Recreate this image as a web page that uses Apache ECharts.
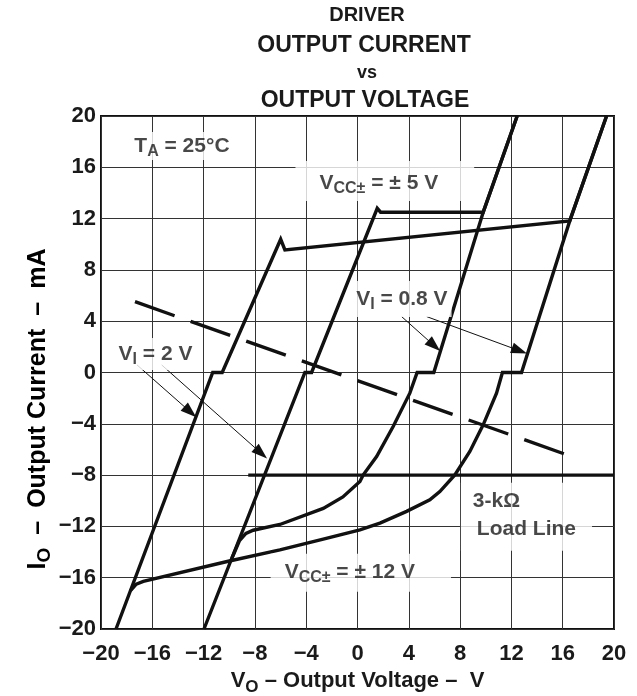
<!DOCTYPE html>
<html><head><meta charset="utf-8">
<script src="https://cdn.jsdelivr.net/npm/echarts@6/dist/echarts.min.js"></script>
<style>html,body{margin:0;padding:0;background:#fff}#c{width:637px;height:696px}</style>
</head><body><div id="c"></div>
<script>
// ---- axis ticks ----
const xTicks = [-20, -16, -12, -8, -4, 0, 4, 8, 12, 16, 20];
const yTicks = [-20, -16, -12, -8, -4, 0, 4, 8, 12, 16, 20];

// ---- VCC± = ±12 V, VI = 2 V (rising branch) ----
const v12RiseX = [-18.83, -11.29, -10.55, -5.99, -5.66, 16.55, 19.42];
const v12RiseY = [-20, 0, 0, 10.39, 9.56, 11.82, 20];

// ---- VCC± = ±12 V, VI = 0.8 V (falling branch) ----
const v12FallX = [19.42, 16.55, 12.79, 11.3, 10.84, 9.8, 8.76, 7.59, 6.42, 5.64, 3.83, 1.75, 0.19, -2.67, -6.05, -10.08, -16.7, -17.25, -17.7];
const v12FallY = [20, 11.82, 0, 0, -1.61, -4.08, -6.16, -7.98, -9.28, -9.93, -10.83, -11.74, -12.27, -13.0, -13.83, -14.72, -16.29, -16.5, -17.0];

// ---- VCC± = ±5 V, VI = 2 V ----
const v5RiseX = [-11.97, -4.1, -3.58, 1.54, 1.8, 9.8, 12.45];
const v5RiseY = [-20, 0, 0, 12.8, 12.5, 12.5, 20];

// ---- VCC± = ±5 V, VI = 0.8 V ----
const v5FallX = [12.45, 9.8, 5.95, 4.65, 4.08, 2.78, 1.49, 0.45, 0.19, -1.14, -2.67, -6.05, -8.13, -8.7, -9.2, -9.5, -9.8];
const v5FallY = [20, 12.5, 0, 0, -1.61, -4.21, -6.55, -7.98, -8.5, -9.7, -10.6, -11.85, -12.3, -12.55, -13.1, -13.8, -14.5];

// ---- 3-kΩ load line (dashed) and -8 mA line ----
const loadLineX = [-17.35, 16.5];
const loadLineY = [5.52, -6.48];
const flatLineX = [-8.52, 20];
const flatLineY = [-8, -8];

// ---- annotation arrows [x0, y0, x1, y1] ----
const arrows = [
  [-17.19, 0.59, -13.04, -3.07],
  [-15.27, 0.59, -7.52, -6.29],
  [3.44, 4.36, 5.98, 2.09],
  [5.39, 4.36, 12.63, 1.7]
];

const FONT = '"Liberation Sans", Arial, Helvetica, sans-serif';
const pair = (xs, ys) => xs.map((x, i) => [x, ys[i]]);
const fmt = v => v < 0 ? '\u2212' + Math.abs(v) : String(v);

function curve(name, xs, ys, extra) {
  return Object.assign({
    name, type: 'line', data: pair(xs, ys), showSymbol: false, silent: true,
    lineStyle: { color: '#111', width: 3.4, join: 'miter' }, z: 3, animation: false
  }, extra || {});
}

const rich = {
  m: { fontFamily: FONT, fontWeight: 'bold', fontSize: 21, color: '#1a1a1a', verticalAlign: 'middle', lineHeight: 28 },
  m2: { fontFamily: FONT, fontWeight: 'bold', fontSize: 21, color: '#1a1a1a', verticalAlign: 'middle', lineHeight: 28, padding: [0, 0, 0, 4] },
  s: { fontFamily: FONT, fontWeight: 'bold', fontSize: 16, color: '#1a1a1a', verticalAlign: 'bottom', lineHeight: 28 }
};

function lab(x, y, text, pad, align) {
  return {
    value: [x, y],
    label: {
      show: true, position: 'inside', formatter: text, rich: rich,
      backgroundColor: '#fff', padding: pad, align: align || 'center'
    }
  };
}

const annotations = [
  lab(-13.69, 17.66, '{m|T}{s|A}{m| = 25°C}', [0, 2, 0, 2]),
  lab(2.13, 14.93, '{m|V}{s|CC±}{m| = ± 5 V}', [8, 36, 4, 24]),
  lab(3.46, 5.74, '{m|V}{s|I}{m| = 0.8 V}', [4, 4, 4, 4]),
  lab(0.26, -15.62, '{m|V}{s|CC±}{m| = ± 12 V}', [4, 36, 6, 14]),
  lab(-15.75, 1.45, '{m|V}{s|I}{m| = 2 V}', [2, 2, 2, 2]),
  lab(8.06, -11.25, '{m|3-kΩ}\n{m2|Load Line}', [4, 16, 8, 12], 'left')
];

const yTitleRich = {
  m: { fontFamily: FONT, fontWeight: 'bold', fontSize: 25, color: '#1a1a1a', verticalAlign: 'middle', lineHeight: 32 },
  g: { fontFamily: FONT, fontWeight: 'bold', fontSize: 25, color: '#1a1a1a', verticalAlign: 'middle', lineHeight: 32, padding: [0, 13, 0, 13] },
  s: { fontFamily: FONT, fontWeight: 'bold', fontSize: 19, color: '#1a1a1a', verticalAlign: 'bottom', lineHeight: 32 }
};

const chart = echarts.init(document.getElementById('c'), null, { renderer: 'canvas' });
chart.setOption({
  animation: false,
  backgroundColor: '#fff',
  graphic: [
    { type: 'text', x: 367, y: 15, style: { text: 'DRIVER', font: 'bold 20px ' + FONT, fill: '#1a1a1a', align: 'center', verticalAlign: 'middle' } },
    { type: 'text', x: 364, y: 46, style: { text: 'OUTPUT CURRENT', font: 'bold 23px ' + FONT, fill: '#1a1a1a', align: 'center', verticalAlign: 'middle' } },
    { type: 'text', x: 367, y: 73, style: { text: 'vs', font: 'bold 18px ' + FONT, fill: '#1a1a1a', align: 'center', verticalAlign: 'middle' } },
    { type: 'text', x: 365, y: 101, style: { text: 'OUTPUT VOLTAGE', font: 'bold 23px ' + FONT, fill: '#1a1a1a', align: 'center', verticalAlign: 'middle' } },
    { type: 'text', x: 38, y: 409, rotation: Math.PI / 2,
      style: { text: '{m|I}{s|O}{g|–}{m|Output Current}{g|–}{m|mA}', rich: yTitleRich, align: 'center', verticalAlign: 'middle' } }
  ],
  grid: { left: 101, top: 116, width: 513, height: 513, show: true, borderColor: '#111', borderWidth: 2, backgroundColor: 'transparent', outerBoundsMode: 'none', containLabel: false },
  xAxis: {
    type: 'value', min: xTicks[0], max: xTicks[xTicks.length - 1], interval: xTicks[1] - xTicks[0],
    axisLine: { show: false }, axisTick: { show: false },
    splitLine: { show: true, lineStyle: { color: '#333', width: 1 } },
    axisLabel: { formatter: fmt, fontFamily: FONT, fontWeight: 'bold', fontSize: 22, color: '#1a1a1a', margin: 14 },
    name: '{m|V}{s|O}{m| – Output Voltage –  V}', nameLocation: 'middle', nameGap: 36,
    nameTextStyle: { rich: {
      m: { fontFamily: FONT, fontWeight: 'bold', fontSize: 22, color: '#1a1a1a', verticalAlign: 'middle', lineHeight: 30 },
      s: { fontFamily: FONT, fontWeight: 'bold', fontSize: 17, color: '#1a1a1a', verticalAlign: 'bottom', lineHeight: 30 } } }
  },
  yAxis: {
    type: 'value', min: yTicks[0], max: yTicks[yTicks.length - 1], interval: yTicks[1] - yTicks[0],
    axisLine: { show: false }, axisTick: { show: false },
    splitLine: { show: true, lineStyle: { color: '#333', width: 1 } },
    axisLabel: { formatter: fmt, fontFamily: FONT, fontWeight: 'bold', fontSize: 22, color: '#1a1a1a', margin: 5 }
  },
  series: [
    curve('±12 V, VI = 2 V', v12RiseX, v12RiseY),
    curve('±12 V, VI = 0.8 V', v12FallX, v12FallY),
    curve('±5 V, VI = 2 V', v5RiseX, v5RiseY),
    curve('±5 V, VI = 0.8 V', v5FallX, v5FallY),
    curve('3-kΩ load line', loadLineX, loadLineY, { lineStyle: { color: '#111', width: 3.4, type: [42, 17], cap: 'butt' } }),
    curve('-8 mA line', flatLineX, flatLineY, {
      markLine: {
        silent: true, animation: false, symbol: ['none', 'triangle'], symbolSize: [11, 16],
        label: { show: false }, emphasis: { disabled: true },
        lineStyle: { color: '#111', width: 1, type: 'solid' },
        data: arrows.map(a => [{ coord: [a[0], a[1]] }, { coord: [a[2], a[3]] }])
      }
    }),
    {
      name: 'labels', type: 'scatter', data: annotations, symbolSize: 1, silent: true, z: 10,
      itemStyle: { color: 'rgba(0,0,0,0)' }, animation: false
    }
  ]
});
</script></body></html>
